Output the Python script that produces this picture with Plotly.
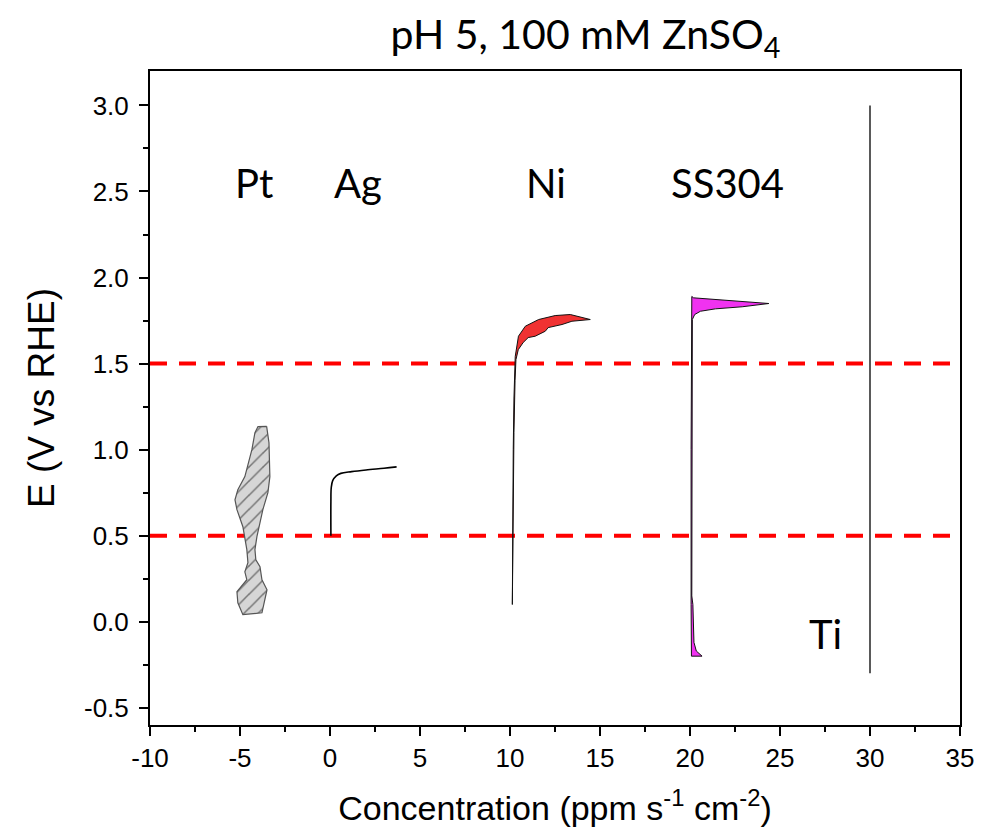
import plotly.graph_objects as go

# ---- data ----
pt_x = [-3.52, -3.39, -3.34, -3.45, -3.73, -3.89, -4.06, -4.17, -4.12, -3.89, -3.78, -3.50, -3.62, -3.78,
        -4.84, -5.12, -5.17, -4.62, -4.73, -4.56, -4.62, -4.73, -4.84, -5.17, -5.28, -5.12, -4.73, -4.34,
        -4.17, -4.00, -3.52]
pt_y = [1.135, 1.04, 0.843, 0.75, 0.651, 0.576, 0.494, 0.419, 0.36, 0.32, 0.244, 0.186, 0.128, 0.052,
        0.041, 0.11, 0.174, 0.244, 0.29, 0.343, 0.419, 0.494, 0.552, 0.651, 0.709, 0.767, 0.843, 1.0,
        1.099, 1.134, 1.135]

ag_x = [0.05, 0.05, 0.07, 0.15, 0.35, 0.6, 1.2, 2.0, 3.0, 3.7]
ag_y = [0.50, 0.70, 0.78, 0.82, 0.848, 0.862, 0.872, 0.882, 0.892, 0.90]

ni_x = [10.13, 10.15, 10.18, 10.22, 10.26, 10.29, 10.47, 10.85, 11.59, 12.51, 13.35, 14.46,
        13.44, 12.89, 12.12, 11.96, 11.40, 11.01, 10.73, 10.46, 10.33, 10.28, 10.22, 10.16, 10.13]
ni_y = [0.10, 0.60, 1.00, 1.30, 1.47, 1.541, 1.659, 1.717, 1.756, 1.779, 1.785, 1.756,
        1.746, 1.727, 1.709, 1.688, 1.659, 1.651, 1.622, 1.581, 1.523, 1.40, 1.10, 0.60, 0.10]

ss_x = [20.08, 20.06, 20.06, 20.07, 20.10, 20.20, 21.97, 24.38, 22.90, 21.41, 20.58, 20.26, 20.13,
        20.10, 20.10, 20.16, 20.20, 20.22, 20.35, 20.67, 20.08]
ss_y = [-0.20, 0.10, 1.00, 1.70, 1.89, 1.882, 1.868, 1.849, 1.83, 1.818, 1.804, 1.785, 1.756,
        0.50, 0.15, 0.10, 0.00, -0.12, -0.17, -0.20, -0.20]

ti_x = [30.0, 30.0]
ti_y = [3.0, -0.30]

ref_levels = [0.5, 1.5]

metal_labels = ["Pt", "Ag", "Ni", "SS304", "Ti"]
label_x = [-4.2, 1.55, 12.0, 22.1, 27.5]
label_y = [2.55, 2.55, 2.55, 2.55, -0.07]

x_ticks = [-10, -5, 0, 5, 10, 15, 20, 25, 30, 35]
x_ticktext = ["-10", "-5", "0", "5", "10", "15", "20", "25", "30", "35"]
y_ticks = [-0.5, 0.0, 0.5, 1.0, 1.5, 2.0, 2.5, 3.0]
y_ticktext = ["-0.5", "0.0", "0.5", "1.0", "1.5", "2.0", "2.5", "3.0"]

fig = go.Figure()

# reference dashed lines
for lv in ref_levels:
    fig.add_trace(go.Scatter(x=[-10, 35], y=[lv, lv], mode="lines",
                             line=dict(color="#ff0000", width=4, dash="17px,12px"),
                             hoverinfo="skip", showlegend=False))

fig.add_trace(go.Scatter(x=pt_x, y=pt_y, mode="lines", fill="toself",
                         fillcolor="#d6d6d6",
                         fillpattern=dict(shape="/", fgcolor="#111111", bgcolor="#d6d6d6",
                                          size=10, solidity=0.15),
                         line=dict(color="#555555", width=1.2), showlegend=False))

fig.add_trace(go.Scatter(x=ag_x, y=ag_y, mode="lines",
                         line=dict(color="#000000", width=1.6, shape="spline"), showlegend=False))

fig.add_trace(go.Scatter(x=ni_x, y=ni_y, mode="lines", fill="toself", fillcolor="#f03232",
                         line=dict(color="#111111", width=1), showlegend=False))

fig.add_trace(go.Scatter(x=ss_x, y=ss_y, mode="lines", fill="toself", fillcolor="#f032f0",
                         line=dict(color="#111111", width=1), showlegend=False))

fig.add_trace(go.Scatter(x=ti_x, y=ti_y, mode="lines",
                         line=dict(color="#000000", width=1.3), showlegend=False))

for t, xx, yy in zip(metal_labels, label_x, label_y):
    fig.add_annotation(x=xx, y=yy, text=t, showarrow=False,
                       font=dict(family="Lato", size=40, color="black"))

axis_common = dict(showline=True, linecolor="black", linewidth=2, mirror=True,
                   ticks="outside", ticklen=9, tickwidth=2, tickcolor="black",
                   showgrid=False, zeroline=False,
                   tickfont=dict(family="Liberation Sans, Arial", size=26, color="black"))

fig.update_layout(
    width=984, height=832,
    paper_bgcolor="white", plot_bgcolor="white",
    margin=dict(l=150, r=24, t=71, b=107, autoexpand=False),
    title=dict(text="pH 5, 100 mM ZnSO<sub>4</sub>", x=0.595, xanchor="center",
               y=0.958, yanchor="middle",
               font=dict(family="Lato", size=41, color="black")),
    xaxis=dict(range=[-10, 35], tickvals=x_ticks, ticktext=x_ticktext,
               minor=dict(dtick=2.5, ticklen=5, tickwidth=2, tickcolor="black", ticks="outside"),
               title=dict(text="Concentration (ppm s<sup>-1</sup> cm<sup>-2</sup>)",
                          font=dict(family="Liberation Sans, Arial", size=34, color="black"),
                          standoff=24),
               **axis_common),
    yaxis=dict(range=[-0.6, 3.2], tickvals=y_ticks, ticktext=y_ticktext,
               ticklabelstandoff=5,
               minor=dict(dtick=0.25, tick0=0, ticklen=5, tickwidth=2, tickcolor="black", ticks="outside"),
               title=dict(text="E (V vs RHE)",
                          font=dict(family="Liberation Sans, Arial", size=37, color="black"),
                          standoff=18),
               **axis_common),
)

fig.write_html("out.html")
